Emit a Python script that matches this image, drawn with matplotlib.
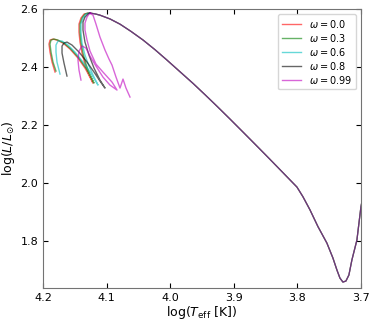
import numpy as np
import matplotlib
matplotlib.use("Agg")
from matplotlib import pyplot as plt

# rotation rates and colours of the tracks
omegas = ["0.0", "0.3", "0.6", "0.8", "0.99"]
colors = ["r", "g", "c", "k", "m"]

# early part of each track (log Teff, log L), up to the shared luminosity peak
red_x = [4.1811, 4.1858, 4.1890, 4.1906, 4.1890, 4.1843, 4.1780, 4.1686, 4.1575, 4.1450, 4.1340, 4.1261,
         4.1214, 4.1277, 4.1340, 4.1387, 4.1418, 4.1434, 4.1434, 4.1403, 4.1355, 4.1292, 4.1261]
red_y = [2.3828, 2.4172, 2.4517, 2.4793, 2.4931, 2.4966, 2.4931, 2.4828, 2.4621, 2.4310, 2.3966, 2.3655,
         2.3448, 2.3724, 2.4103, 2.4483, 2.4862, 2.5207, 2.5483, 2.5690, 2.5828, 2.5862, 2.5862]

green_x = [4.1796, 4.1843, 4.1874, 4.1890, 4.1874, 4.1827, 4.1764, 4.1670, 4.1560, 4.1434, 4.1324, 4.1245,
           4.1198, 4.1261, 4.1324, 4.1371, 4.1403, 4.1418, 4.1418, 4.1387, 4.1340, 4.1292, 4.1261]
green_y = [2.3862, 2.4172, 2.4517, 2.4793, 2.4931, 2.4966, 2.4931, 2.4828, 2.4621, 2.4310, 2.3966, 2.3655,
           2.3448, 2.3724, 2.4103, 2.4483, 2.4862, 2.5207, 2.5483, 2.5690, 2.5828, 2.5862, 2.5862]

cyan_x = [4.1733, 4.1780, 4.1796, 4.1796, 4.1764, 4.1701, 4.1607, 4.1497, 4.1371, 4.1261, 4.1182, 4.1135,
          4.1198, 4.1277, 4.1340, 4.1387, 4.1403, 4.1403, 4.1371, 4.1324, 4.1277, 4.1261]
cyan_y = [2.3759, 2.4172, 2.4517, 2.4759, 2.4897, 2.4897, 2.4759, 2.4517, 2.4172, 2.3828, 2.3552, 2.3379,
          2.3655, 2.4034, 2.4414, 2.4828, 2.5207, 2.5483, 2.5690, 2.5828, 2.5862, 2.5862]

gray_x = [4.1623, 4.1670, 4.1701, 4.1701, 4.1670, 4.1623, 4.1544, 4.1434, 4.1308, 4.1198, 4.1104, 4.1025,
          4.1104, 4.1198, 4.1277, 4.1340, 4.1371, 4.1371, 4.1340, 4.1292, 4.1261]
gray_y = [2.3690, 2.4138, 2.4483, 2.4724, 2.4828, 2.4862, 2.4759, 2.4517, 2.4172, 2.3828, 2.3517, 2.3276,
          2.3552, 2.3966, 2.4414, 2.4862, 2.5276, 2.5552, 2.5724, 2.5828, 2.5862]

mag_x = [4.1403, 4.1434, 4.1450, 4.1434, 4.1387, 4.1324, 4.1261, 4.1167, 4.1057, 4.0947, 4.0836,
         4.0915, 4.1057, 4.1167, 4.1261, 4.1308, 4.1340, 4.1340, 4.1308, 4.1277, 4.1245, 4.1261]
mag_y = [2.3552, 2.3897, 2.4241, 2.4552, 2.4724, 2.4655, 2.4379, 2.4034, 2.3655, 2.3379, 2.3207,
         2.3483, 2.3828, 2.4103, 2.4552, 2.4931, 2.5276, 2.5517, 2.5724, 2.5828, 2.5862, 2.5862]

# extra wiggle of the fastest rotator
mag_extra_x = [4.1245, 4.1214, 4.1167, 4.1104, 4.1025, 4.0962, 4.0915, 4.0852, 4.0789, 4.0742, 4.0695, 4.0632]
mag_extra_y = [2.5828, 2.5793, 2.5483, 2.5034, 2.4586, 2.4276, 2.4069, 2.3655, 2.3276, 2.3586, 2.3276, 2.2966]

# shared part of the tracks, from the peak to the red giant branch
main_x = [4.1261, 4.1182, 4.1104, 4.0947, 4.0789, 4.0616, 4.0428, 4.0239, 4.0050, 3.9846, 3.9642, 3.9453,
          3.9264, 3.9060, 3.8855, 3.8667, 3.8478, 3.8242, 3.8006, 3.7912, 3.7802, 3.7676, 3.7535, 3.7440,
          3.7377, 3.7330, 3.7283, 3.7236, 3.7189, 3.7142, 3.7063, 3.7000, 3.6921]
main_y = [2.5862, 2.5835, 2.5790, 2.5660, 2.5480, 2.5230, 2.4935, 2.4600, 2.4240, 2.3840, 2.3440, 2.3050,
          2.2650, 2.2210, 2.1760, 2.1345, 2.0925, 2.0395, 1.9862, 1.9530, 1.9080, 1.8500, 1.7931, 1.7414,
          1.7000, 1.6724, 1.6586, 1.6621, 1.6828, 1.7345, 1.8034, 1.9172, 2.0103]

tracks = [(red_x, red_y), (green_x, green_y), (cyan_x, cyan_y), (gray_x, gray_y), (mag_x, mag_y)]

fig = plt.figure(figsize=(3.74, 3.24), dpi=100)
ax = fig.add_axes([0.115, 0.111, 0.85, 0.861])

for (tx, ty), om, col in zip(tracks, omegas, colors):
    ax.plot(tx, ty, color=col, alpha=0.6, lw=1.0, label=rf"$\omega = {om}$")
    ax.plot(main_x, main_y, color=col, alpha=0.42, lw=0.9)
ax.plot(mag_extra_x, mag_extra_y, color="m", alpha=0.6, lw=1.0)

ax.set_xlim(4.2, 3.7)
ax.set_ylim(1.638, 2.6)
ax.set_xticks([4.2, 4.1, 4.0, 3.9, 3.8, 3.7])
ax.set_xticklabels(["4.2", "4.1", "4.0", "3.9", "3.8", "3.7"])
ax.set_yticks([1.8, 2.0, 2.2, 2.4, 2.6])
ax.set_yticklabels(["1.8", "2.0", "2.2", "2.4", "2.6"])
ax.tick_params(direction="in", top=True, right=True, labelsize=8, length=3.5, width=0.8)
for sp in ax.spines.values():
    sp.set_color("0.45")
    sp.set_linewidth(0.8)

ax.set_xlabel(r"$\log(T_{\rm eff}\ [{\rm K}])$", fontsize=9, labelpad=1)
ax.set_ylabel(r"$\log(L/L_{\odot})$", fontsize=9, labelpad=2)
ax.legend(loc="upper right", fontsize=7, labelspacing=0.2)

fig.savefig("out.png", dpi=100)
